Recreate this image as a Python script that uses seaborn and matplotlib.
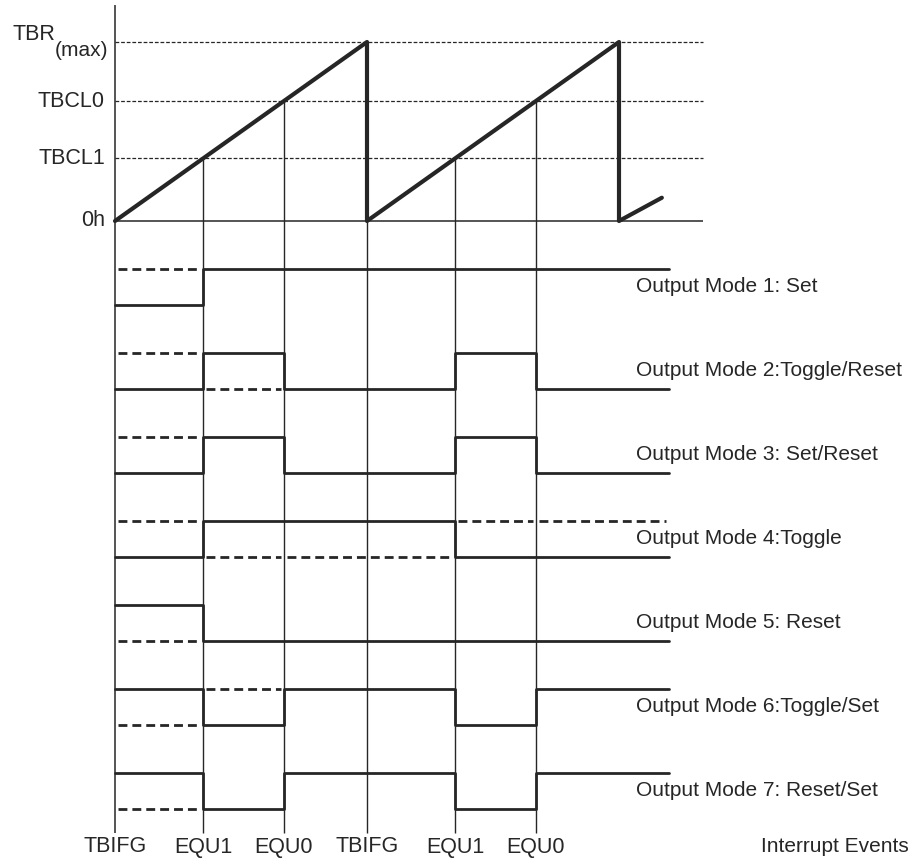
import numpy as np
import pandas as pd
import seaborn as sns
import matplotlib.pyplot as plt

sns.set_theme(style='white')
plt.rcParams['font.family'] = ['Liberation Sans', 'DejaVu Sans']

# counter (timer) levels
level_names = ['TBCL0', 'TBCL1', '0h']
level_values = [67, 35, 0]
tbr_max = 100

# counter ramp (time, count)
ramp_time = [0, 100, 100, 200, 200, 217]
ramp_count = [0, 100, 0, 100, 0, 13]

# interrupt events
event_names = ['TBIFG', 'EQU1', 'EQU0', 'TBIFG', 'EQU1', 'EQU0']
event_times = [0, 35, 67, 100, 135, 167]
event_tops = [0, 35, 67, 0, 35, 67]

# output signals: state on each interval between edges (1 = high, 0 = low)
edges = [0, 35, 67, 135, 167, 220]
mode_names = ['Output Mode 1: Set', 'Output Mode 2:Toggle/Reset',
              'Output Mode 3: Set/Reset', 'Output Mode 4:Toggle',
              'Output Mode 5: Reset', 'Output Mode 6:Toggle/Set',
              'Output Mode 7: Reset/Set']
mode_solid = [[0, 1, 1, 1, 1],
              [0, 1, 0, 1, 0],
              [0, 1, 0, 1, 0],
              [0, 1, 1, 0, 0],
              [1, 0, 0, 0, 0],
              [1, 0, 1, 0, 1],
              [1, 0, 1, 0, 1]]
mode_dashed = [[1, None, None, None, None],
               [1, 0, None, None, None],
               [1, None, None, None, None],
               [1, 0, 0, 1, 1],
               [0, None, None, None, None],
               [0, 1, None, None, None],
               [0, None, None, None, None]]

# layout (pixel based) -> data units
X0, SX = 115, 2.52   # px of t=0, px per time unit
Y0, SY = 221, 1.79   # px of count 0, px per count
def tx(px): return (px - X0) / SX
def cy(py): return (Y0 - py) / SY

ink = '#262626'
fig = plt.figure(figsize=(9.12, 8.65), dpi=100)
ax = fig.add_axes([0, 0, 1, 1])
ax.set_xlim(tx(0), tx(912))
ax.set_ylim(cy(865), cy(0))
ax.axis('off')

# reference lines
ax.hlines(level_values[:2] + [tbr_max], 0, tx(703), colors=ink, lw=0.9,
          linestyles=(0, (3, 1.5)))
ax.hlines(0, 0, tx(703), colors=ink, lw=1.1)
ax.vlines(0, cy(833), cy(5), colors=ink, lw=1.1)
ax.vlines(event_times[1:], cy(833), event_tops[1:], colors=ink, lw=1.0)

# ramp
ramp = pd.DataFrame({'t': ramp_time, 'c': ramp_count})
sns.lineplot(data=ramp, x='t', y='c', estimator=None, sort=False,
             color=ink, lw=3.0, ax=ax)

# output signals
for i, name in enumerate(mode_names):
    hi = cy(269 + 84 * i)
    lo = cy(305 + 84 * i)
    lev = [hi if s else lo for s in mode_solid[i]]
    sig = pd.DataFrame({'t': edges, 'v': lev + [lev[-1]]})
    sns.lineplot(data=sig, x='t', y='v', estimator=None, sort=False,
                 drawstyle='steps-post', color=ink, lw=2.0, ax=ax)
    for k, d in enumerate(mode_dashed[i]):
        if d is None:
            continue
        y = hi if d else lo
        seg = pd.DataFrame({'t': [edges[k] + 1.2, edges[k + 1] - 1.2], 'v': [y, y]})
        sns.lineplot(data=seg, x='t', y='v', estimator=None, sort=False,
                     color=ink, lw=2.0, linestyle=(0, (3.2, 1.8)), ax=ax)
    ax.text(tx(636), (hi + lo) / 2, name, fontsize=15, color=ink,
            ha='left', va='center')

# labels
fs = 15.5
for name, v in zip(level_names, level_values):
    ax.text(tx(105), v, name, fontsize=fs, color=ink, ha='right', va='center')
ax.text(tx(13), cy(34), 'TBR', fontsize=fs, color=ink, ha='left', va='center')
ax.text(tx(108), cy(51), '(max)', fontsize=15, color=ink, ha='right', va='center')
for name, t in zip(event_names, event_times):
    ax.text(t, cy(847), name, fontsize=fs, color=ink, ha='center', va='center')
ax.text(tx(835), cy(847), 'Interrupt Events', fontsize=15, color=ink,
        ha='center', va='center')

if ax.get_legend() is not None:
    ax.get_legend().remove()
fig.savefig('out.png', dpi=100)
